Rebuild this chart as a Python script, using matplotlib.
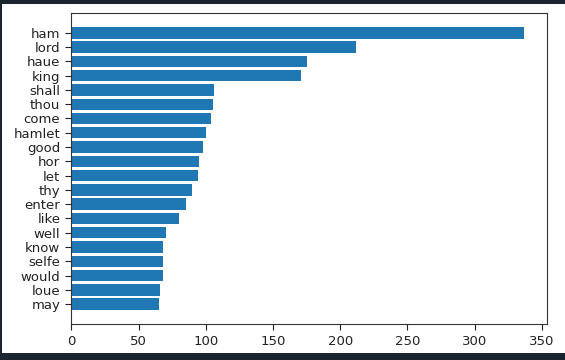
import matplotlib
matplotlib.use("Agg")
import matplotlib.pyplot as plt
from matplotlib.patches import Rectangle

# word counts
words = ['ham', 'lord', 'haue', 'king', 'shall', 'thou', 'come', 'hamlet', 'good', 'hor',
         'let', 'thy', 'enter', 'like', 'well', 'know', 'selfe', 'would', 'loue', 'may']
counts = [337, 212, 175, 171, 106, 105, 104, 100, 98, 95,
          94, 90, 85, 80, 70, 68, 68, 68, 66, 65]

fig = plt.figure(figsize=(5.65, 3.6), dpi=100, facecolor='#1b2430')
# white page inside the dark screenshot frame
fig.patches.append(Rectangle((2 / 565, 7 / 360), 1, 1 - 11 / 360,
                             transform=fig.transFigure, facecolor='white',
                             edgecolor='none', zorder=-1))

ax = fig.add_axes([0.1265, 0.10, 0.8415, 0.864])
ax.barh(words[::-1], counts[::-1], color='#1f77b4')
ax.set_xticks([0, 50, 100, 150, 200, 250, 300, 350])
ax.tick_params(labelsize=9.5, colors='#222222', length=4.5)
for s in ax.spines.values():
    s.set_color('#333333')

plt.savefig('out.png', dpi=100, facecolor=fig.get_facecolor())
